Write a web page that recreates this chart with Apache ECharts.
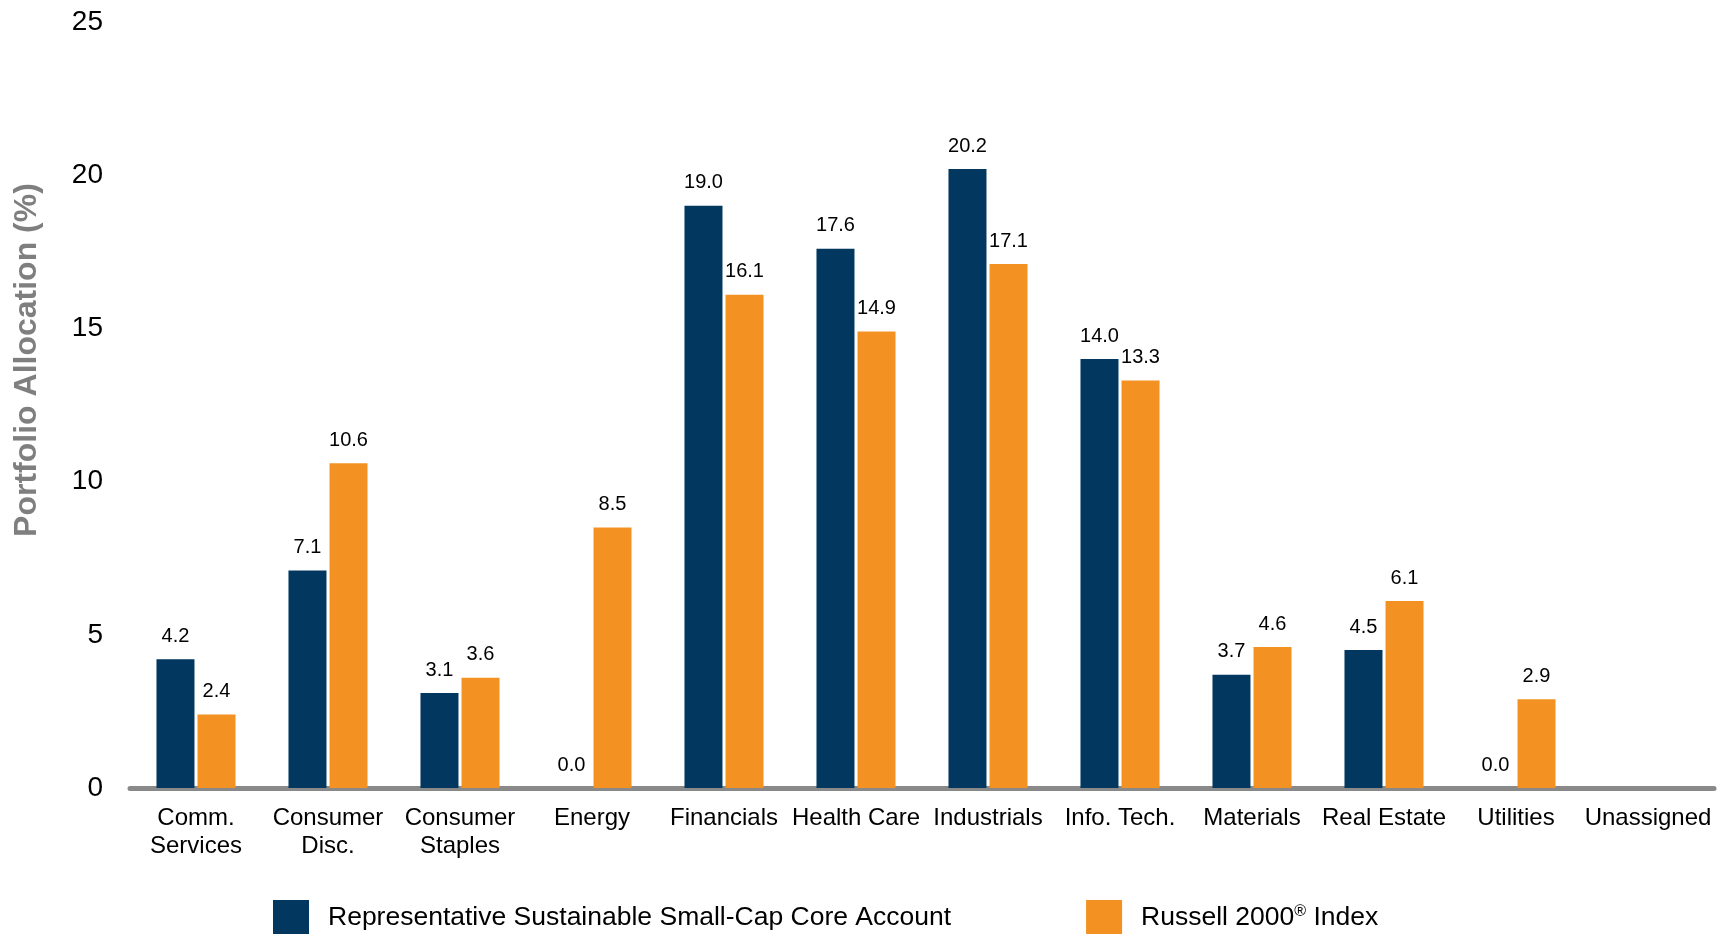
<!DOCTYPE html>
<html>
<head>
<meta charset="utf-8">
<script src="https://cdn.jsdelivr.net/npm/echarts@6/dist/echarts.min.js"></script>
<style>
html,body{margin:0;padding:0;background:#fff;}
#chart{width:1725px;height:934px;}
</style>
</head>
<body>
<div id="chart"></div>
<script>
const categories = ['Comm.\nServices','Consumer\nDisc.','Consumer\nStaples','Energy','Financials','Health Care','Industrials','Info. Tech.','Materials','Real Estate','Utilities','Unassigned'];
const accountValues = [4.2, 7.1, 3.1, 0.0, 19.0, 17.6, 20.2, 14.0, 3.7, 4.5, 0.0, null];
const indexValues = [2.4, 10.6, 3.6, 8.5, 16.1, 14.9, 17.1, 13.3, 4.6, 6.1, 2.9, null];
const seriesNames = ['Representative Sustainable Small-Cap Core Account', 'Russell 2000® Index'];
const yTicks = [0, 5, 10, 15, 20, 25];
const yAxisTitle = 'Portfolio Allocation (%)';

const FONT = 'Liberation Sans, Arial, sans-serif';
const chart = echarts.init(document.getElementById('chart'), null, {renderer:'canvas'});

const labelCfg = {
  show: true,
  position: 'top',
  distance: 13,
  fontFamily: FONT,
  fontSize: 20,
  color: '#000',
  formatter: p => (p.value == null ? '' : Number(p.value).toFixed(1))
};

chart.setOption({
  animation: false,
  backgroundColor: '#fff',
  grid: {left: 130, right: 11, top: 22, bottom: 146, containLabel: false},
  legend: {
    left: 273,
    top: 900,
    padding: 0,
    itemWidth: 36,
    itemHeight: 36,
    itemGap: 135,
    icon: 'rect',
    data: seriesNames,
    formatter: name => name === seriesNames[1] ? 'Russell 2000{sup|®} Index' : name,
    textStyle: {
      fontFamily: FONT,
      fontSize: 26.5,
      color: '#000',
      padding: [0, 0, 0, 14],
      rich: {
        sup: {fontFamily: FONT, fontSize: 16, color: '#000', verticalAlign: 'top', padding: [0, 0, 12, 0]}
      }
    }
  },
  xAxis: {
    type: 'category',
    data: categories,
    axisLine: {show: true, lineStyle: {color: '#898989', width: 5}},
    axisTick: {show: false},
    axisLabel: {interval: 0, fontFamily: FONT, fontSize: 24, lineHeight: 28, color: '#000', margin: 16}
  },
  yAxis: {
    type: 'value',
    min: yTicks[0],
    max: yTicks[yTicks.length - 1],
    interval: yTicks[1] - yTicks[0],
    axisLine: {show: false},
    axisTick: {show: false},
    splitLine: {show: false},
    axisLabel: {fontFamily: FONT, fontSize: 28, color: '#000', margin: 27}
  },
  graphic: [{
    type: 'text',
    x: 27,
    y: 360,
    rotation: Math.PI / 2,
    style: {
      text: yAxisTitle,
      font: 'bold 32px ' + FONT,
      fill: '#7f7f7f',
      align: 'center',
      verticalAlign: 'middle'
    }
  }],
  series: [
    {
      name: seriesNames[0],
      type: 'bar',
      data: accountValues,
      barWidth: 38,
      barGap: '8%',
      itemStyle: {color: '#02375F'},
      label: labelCfg
    },
    {
      name: seriesNames[1],
      type: 'bar',
      data: indexValues,
      barWidth: 38,
      itemStyle: {color: '#F39223'},
      label: labelCfg
    }
  ]
});
</script>
</body>
</html>
